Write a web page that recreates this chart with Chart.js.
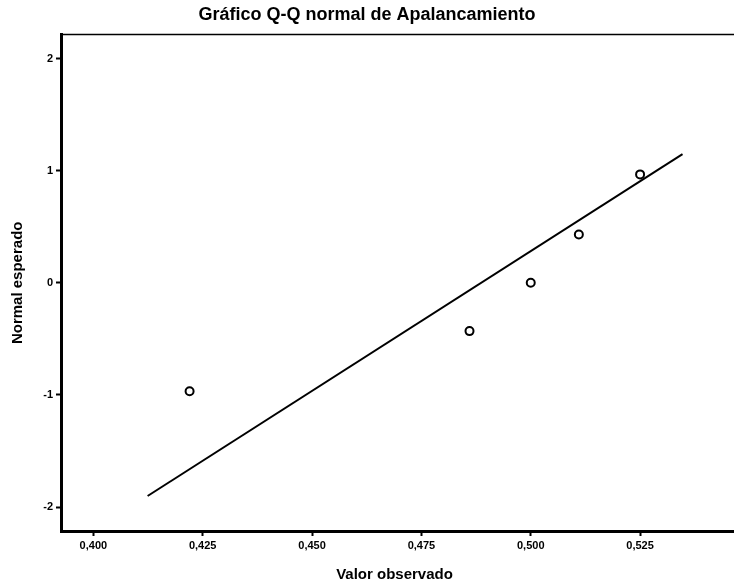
<!DOCTYPE html>
<html>
<head>
<meta charset="utf-8">
<script src="https://cdn.jsdelivr.net/npm/chart.js@4/dist/chart.umd.min.js"></script>
<style>
  html, body { margin: 0; padding: 0; background: #fff; }
  #wrap { width: 734px; height: 587px; position: relative; }
</style>
</head>
<body>
<div id="wrap"><canvas id="qqChart"></canvas></div>
<script>
const observed = [0.422, 0.486, 0.500, 0.511, 0.525];
const expectedNormal = [-0.967, -0.431, 0.000, 0.431, 0.967];

// reference line end points
const lineX = [0.4124, 0.5347];
const lineY = [-1.902, 1.147];

const xTicks = [0.400, 0.425, 0.450, 0.475, 0.500, 0.525];
const yTicks = [-2, -1, 0, 1, 2];

const fontFamily = '"Liberation Sans", Arial, sans-serif';

// frame: thin top line, and the bottom axis carried on to the page edge
const frameLines = {
    id: 'frameLines',
    afterDraw(chart) {
        const a = chart.chartArea;
        const ctx = chart.ctx;
        ctx.save();
        ctx.strokeStyle = '#000';
        ctx.lineWidth = 1.5;
        ctx.beginPath();
        ctx.moveTo(a.left, a.top);
        ctx.lineTo(chart.width, a.top);
        ctx.stroke();
        const yb = Math.round(chart.scales.x.top) + 0.5;
        ctx.lineWidth = 3;
        ctx.beginPath();
        ctx.moveTo(a.right - 1, yb);
        ctx.lineTo(chart.width, yb);
        ctx.stroke();
        ctx.restore();
    }
};

const ctx = document.getElementById('qqChart').getContext('2d');
new Chart(ctx, {
    type: 'scatter',
    data: {
        datasets: [{
            label: 'Observado',
            data: observed.map((v, i) => ({ x: v, y: expectedNormal[i] })),
            borderColor: '#000',
            backgroundColor: '#fff',
            borderWidth: 2,
            pointRadius: 4,
            pointHoverRadius: 4
        }, {
            label: 'Recta',
            data: lineX.map((v, i) => ({ x: v, y: lineY[i] })),
            showLine: true,
            borderColor: '#000',
            borderWidth: 2,
            pointRadius: 0,
            fill: false
        }]
    },
    options: {
        responsive: true,
        maintainAspectRatio: false,
        animation: false,
        layout: { padding: { left: 0, right: 0, top: 0, bottom: 0 } },
        plugins: {
            legend: { display: false },
            tooltip: { enabled: false },
            title: {
                display: true,
                text: 'Gráfico Q-Q normal de Apalancamiento',
                color: '#000',
                font: { family: fontFamily, size: 18, weight: 'bold' },
                padding: { top: 4, bottom: 9 }
            }
        },
        scales: {
            x: {
                type: 'linear',
                min: 0.3926,
                max: 0.5451,
                afterBuildTicks(scale) {
                    scale.ticks = xTicks.map(v => ({ value: v }));
                },
                afterFit(scale) { scale.height = 56; },
                grid: { drawOnChartArea: false, drawTicks: true, tickLength: 5, tickColor: '#000', tickWidth: 2 },
                border: { color: '#000', width: 3 },
                ticks: {
                    color: '#000',
                    padding: 3,
                    maxRotation: 0,
                    font: { family: fontFamily, size: 11, weight: 'bold' },
                    callback: v => v.toFixed(3).replace('.', ',')
                },
                title: {
                    display: true,
                    text: 'Valor observado',
                    color: '#000',
                    font: { family: fontFamily, size: 15, weight: 'bold' },
                    padding: { top: 4, bottom: 3 }
                }
            },
            y: {
                type: 'linear',
                min: -2.214,
                max: 2.214,
                afterBuildTicks(scale) {
                    scale.ticks = yTicks.map(v => ({ value: v }));
                },
                afterFit(scale) { scale.width = 61; },
                grid: { drawOnChartArea: false, drawTicks: true, tickLength: 5, tickColor: '#000', tickWidth: 2 },
                border: { color: '#000', width: 3 },
                ticks: {
                    color: '#000',
                    padding: 3,
                    font: { family: fontFamily, size: 11, weight: 'bold' },
                    callback: v => String(v)
                },
                title: {
                    display: true,
                    text: 'Normal esperado',
                    color: '#000',
                    font: { family: fontFamily, size: 15, weight: 'bold' },
                    padding: { top: 9, bottom: 4 }
                }
            }
        }
    },
    plugins: [frameLines]
});
</script>
</body>
</html>
